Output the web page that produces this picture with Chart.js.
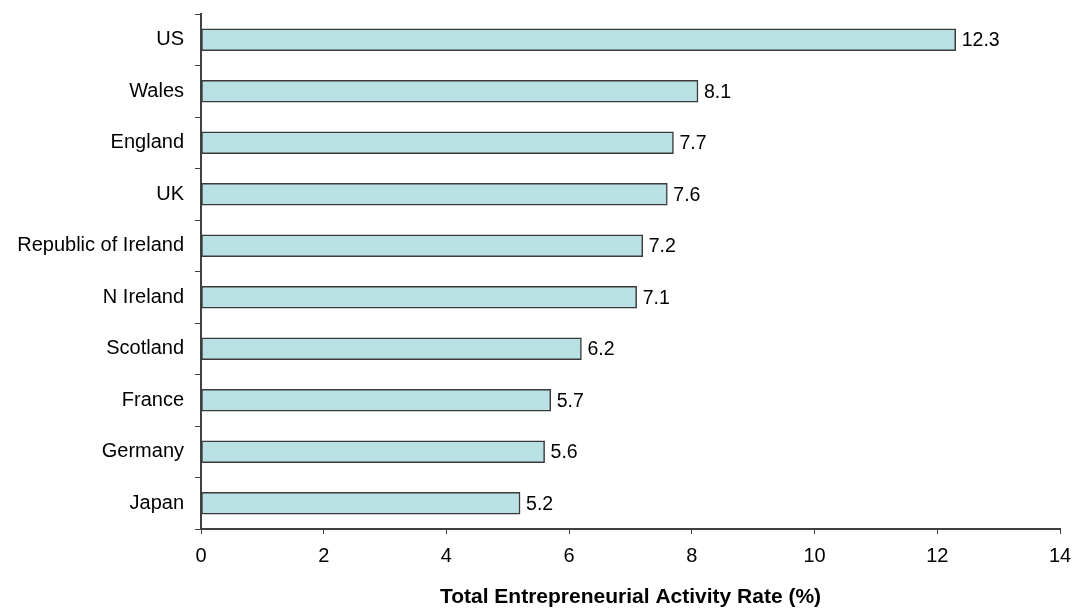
<!DOCTYPE html>
<html>
<head>
<meta charset="utf-8">
<script src="https://cdn.jsdelivr.net/npm/chart.js@4"></script>
<style>
  html, body { margin: 0; padding: 0; background: #fff; }
  #wrap { width: 1077px; height: 610px; }
</style>
</head>
<body>
<div id="wrap"><canvas id="barChart" width="1077" height="610"></canvas></div>
<script>
const countries = ['US', 'Wales', 'England', 'UK', 'Republic of Ireland', 'N Ireland', 'Scotland', 'France', 'Germany', 'Japan'];
const teaRates = [12.3, 8.1, 7.7, 7.6, 7.2, 7.1, 6.2, 5.7, 5.6, 5.2];
const xTicks = [0, 2, 4, 6, 8, 10, 12, 14];

const FONT = "'Liberation Sans', Arial, sans-serif";
const AXIS = '#404040';

// value labels at the end of each bar
const valueLabels = {
  id: 'valueLabels',
  afterDatasetsDraw(chart) {
    const ctx = chart.ctx;
    const meta = chart.getDatasetMeta(0);
    ctx.save();
    ctx.font = '19.5px ' + FONT;
    ctx.fillStyle = '#000';
    ctx.textBaseline = 'middle';
    ctx.textAlign = 'left';
    meta.data.forEach((bar, i) => {
      ctx.fillText(teaRates[i].toFixed(1), bar.x + 6, bar.y + 1);
    });
    ctx.restore();
  }
};

const ctx = document.getElementById('barChart').getContext('2d');

const chart = new Chart(ctx, {
  type: 'bar',
  data: {
    labels: countries,
    datasets: [
      {
        label: 'TEA',
        data: teaRates,
        backgroundColor: '#b9e0e2',
        borderColor: '#3a3a3a',
        borderWidth: 1.5,
        borderSkipped: false,
        barThickness: 22
      }
    ]
  },
  options: {
    indexAxis: 'y',
    responsive: false,
    animation: false,
    layout: { padding: { top: 14, right: 17, left: 0, bottom: 0 } },
    plugins: {
      legend: { display: false },
      tooltip: { enabled: false }
    },
    scales: {
      x: {
        min: 0,
        max: 14,
        afterBuildTicks: (scale) => { scale.ticks = xTicks.map(v => ({ value: v })); },
        afterFit: (scale) => {
          scale.height = 81;
          scale.paddingLeft = 0;
          scale.paddingRight = 0;
        },
        grid: { drawOnChartArea: false, tickLength: 5, color: AXIS },
        border: { color: AXIS, width: 2 },
        ticks: { color: '#000', font: { family: FONT, size: 20 }, padding: 10, maxRotation: 0 },
        title: {
          display: true,
          text: 'Total Entrepreneurial Activity Rate (%)',
          color: '#000',
          font: { family: FONT, size: 21, weight: 'bold' },
          padding: { top: 0, bottom: 0 }
        }
      },
      y: {
        afterFit: (scale) => {
          scale.width = 201;
          scale.paddingTop = 0;
          scale.paddingBottom = 0;
        },
        grid: { drawOnChartArea: false, tickLength: 6, color: AXIS, offset: true },
        border: { color: AXIS, width: 2 },
        ticks: { color: '#000', font: { family: FONT, size: 20 }, padding: 11 }
      }
    }
  },
  plugins: [valueLabels]
});
</script>
</body>
</html>
